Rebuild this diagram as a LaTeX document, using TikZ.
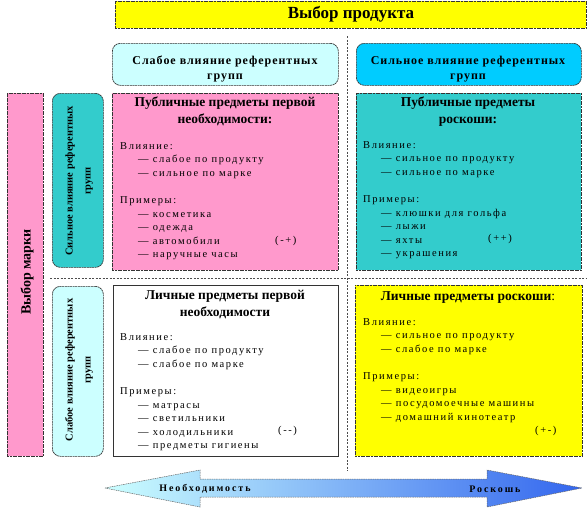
\documentclass[tikz,border=0pt]{standalone}
\usepackage{fontspec}
\setmainfont{Liberation Serif}
\newfontfamily\spaced{Liberation Serif}[LetterSpace=8]
\newfontfamily\wide{Liberation Serif}[LetterSpace=15]
\newfontfamily\wider{Liberation Serif}[LetterSpace=19]
\usetikzlibrary{positioning}

\definecolor{yel}{HTML}{FFFF00}
\definecolor{paleblue}{HTML}{CCFFFF}
\definecolor{cyanc}{HTML}{00CCFF}
\definecolor{tealc}{HTML}{33CCCC}
\definecolor{pinkc}{HTML}{FF99CC}
\definecolor{arrowblue}{HTML}{3366EE}

\tikzset{
  frame/.style={draw=black!80, line width=0.7pt, dash pattern=on 2pt off 0.6pt},
  cell/.style={frame, anchor=north west, inner sep=0pt},
  sep/.style={draw=black!70, line width=0.8pt, dash pattern=on 2pt off 1.5pt},
  head/.style={font=\spaced\bfseries\fontsize{12}{15}\selectfont, align=center, anchor=north, inner sep=0pt},
  title/.style={font=\bfseries\fontsize{13.5}{16.5}\selectfont, align=center, anchor=north, inner sep=0pt},
  side/.style={font=\bfseries\fontsize{10.5}{18}\selectfont, align=center, rotate=90, inner sep=0pt},
  body/.style={font=\wide\fontsize{10.5}{13.6}\selectfont, align=left, anchor=north west, inner sep=0pt},
  sign/.style={font=\wide\fontsize{10.5}{12}\selectfont, anchor=base west, inner sep=0pt},
  axis/.style={font=\wider\bfseries\fontsize{10}{11}\selectfont}
}
\newcommand{\itm}{\hspace*{18pt}— }

\begin{document}
\begin{tikzpicture}[x=1pt, y=-1pt]
    \useasboundingbox (0,0) rectangle (588,509);

    % разделители
    \coordinate (vtop) at (347,36);
    \coordinate (vbot) at (347,471);
    \coordinate (hleft) at (50,278);
    \coordinate (hright) at (586,278);
    \draw[sep] (vtop) -- (vbot);
    \draw[sep] (hleft) -- (hright);

    % шапка
    \node[cell, fill=yel, minimum width=471, minimum height=27] (prod) at (115,1) {};
    \node[font=\bfseries\fontsize{17}{20}\selectfont] (prodT) at (351,14) {Выбор продукта};

    \node[cell, fill=paleblue, rounded corners=8pt, minimum width=226, minimum height=42] (weakg) at (112,43) {};
    \node[cell, fill=cyanc, rounded corners=8pt, minimum width=225, minimum height=42] (strongg) at (356,43) {};
    \node[head] (weakgT) at (225,56) {Слабое влияние референтных\\групп};
    \node[head] (stronggT) at (468,56) {Сильное влияние референтных\\групп};

    % левая колонка
    \node[cell, fill=pinkc, minimum width=36, minimum height=363] (brand) at (7,93) {};
    \node[font=\bfseries\fontsize{14}{16}\selectfont, rotate=90] (brandT) at (27,272) {Выбор марки};

    \node[cell, fill=tealc, rounded corners=8pt, minimum width=51, minimum height=174] (strongb) at (52,93) {};
    \node[cell, fill=paleblue, rounded corners=8pt, minimum width=51, minimum height=170] (weakb) at (52,286) {};
    \node[side] (strongbT) at (79,181) {Сильное влияние референтных\\групп};
    \node[side] (weakbT) at (79,370) {Слабое влияние референтных\\групп};

    % четыре клетки
    \node[cell, fill=pinkc, minimum width=226, minimum height=177] (pubneed) at (112,93) {};
    \node[cell, fill=tealc, minimum width=225, minimum height=177] (publux) at (356,93) {};
    \node[cell, fill=white, solid, minimum width=225, minimum height=171] (privneed) at (113,285) {};
    \node[cell, fill=yel, minimum width=227, minimum height=171] (privlux) at (355,285) {};

    \node[title] (pubneedT) at (225,97) {Публичные предметы первой\\необходимости:};
    \node[title] (publuxT) at (468,97) {Публичные предметы\\роскоши:};
    \node[title] (privneedT) at (225,290) {Личные предметы первой\\необходимости};
    \node[title] (privluxT) at (468,291) {Личные предметы роскоши\textmd{:}};

    \node[body] (pubneedB) at (120,142) {Влияние:\\ \itm слабое по продукту\\ \itm сильное по марке\\[13.6pt]
        Примеры:\\ \itm косметика\\ \itm одежда\\ \itm автомобили\\ \itm наручные часы};
    \node[body] (publuxB) at (363,141) {Влияние:\\ \itm сильное по продукту\\ \itm сильное по марке\\[13.6pt]
        Примеры:\\ \itm клюшки для гольфа\\ \itm лыжи\\ \itm яхты\\ \itm украшения};
    \node[body] (privneedB) at (120,333) {Влияние:\\ \itm слабое по продукту\\ \itm слабое по марке\\[13.6pt]
        Примеры:\\ \itm матрасы\\ \itm светильники\\ \itm холодильники\\ \itm предметы гигиены};
    \node[body] (privluxB) at (363,318) {Влияние:\\ \itm сильное по продукту\\ \itm слабое по марке\\[13.6pt]
        Примеры:\\ \itm видеоигры\\ \itm посудомоечные машины\\ \itm домашний кинотеатр};

    \node[sign] (pubneedM) at (275,243) {(-+)};
    \node[sign] (publuxM) at (488,241) {(++)};
    \node[sign] (privneedM) at (278,433) {(-{}-)};
    \node[sign] (privluxM) at (535,433) {(+-)};

    % стрелка внизу
    \shadedraw[left color=paleblue, right color=arrowblue, draw=black!60, line width=0.5pt, dash pattern=on 1.5pt off 0.8pt]
        (105,488) -- (200,470) -- (200,479) -- (487,479) -- (487,470) -- (582,488)
        -- (487,507) -- (487,497) -- (200,497) -- (200,507) -- cycle;
    \node[axis] (needT) at (205,489) {Необходимость};
    \node[axis] (luxT) at (495,489) {Роскошь};
\end{tikzpicture}
\end{document}
